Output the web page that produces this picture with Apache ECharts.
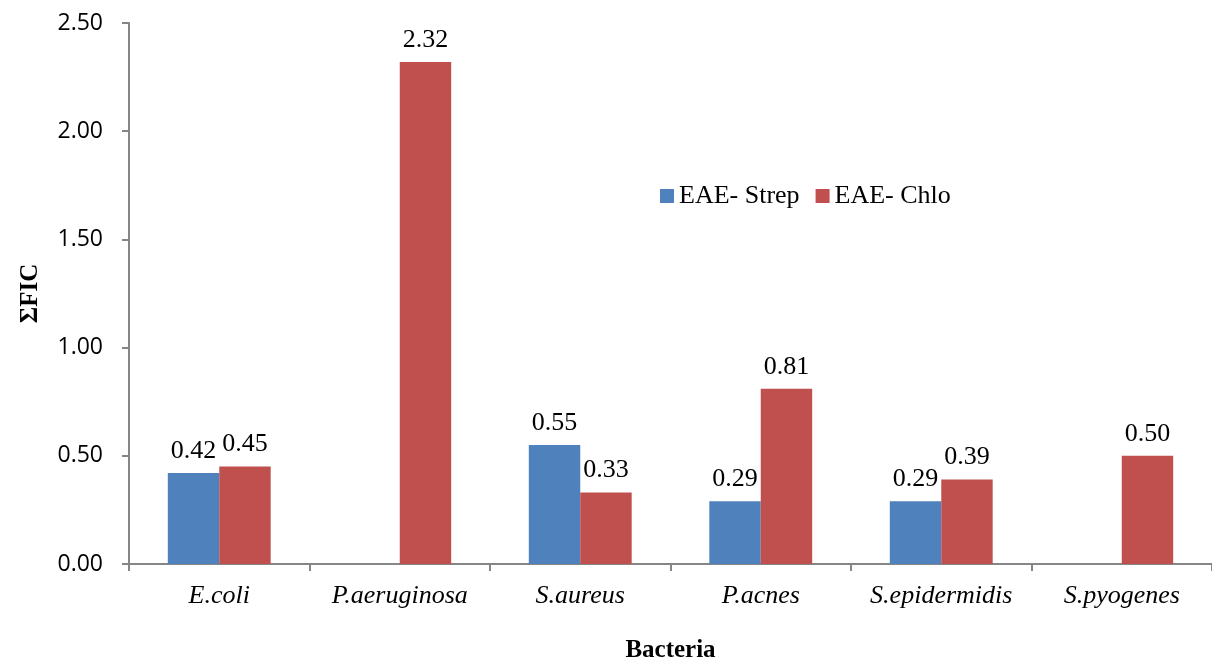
<!DOCTYPE html>
<html><head><meta charset="utf-8">
<script src="https://cdn.jsdelivr.net/npm/echarts@6/dist/echarts.min.js"></script>
<style>html,body{margin:0;padding:0;background:#fff}#c{width:1212px;height:660px}</style>
</head><body><div id="c"></div>
<script>
const categories = ['E.coli','P.aeruginosa','S.aureus','P.acnes','S.epidermidis','S.pyogenes'];
const strepValues = [0.42, null, 0.55, 0.29, 0.29, null];
const chloValues = [0.45, 2.32, 0.33, 0.81, 0.39, 0.50];
const seriesNames = ['EAE- Strep', 'EAE- Chlo'];
const yTicks = [0, 0.5, 1, 1.5, 2, 2.5];

const serif = '"Liberation Serif","Times New Roman",serif';
const chart = echarts.init(document.getElementById('c'));
const lbl = {show:true, position:'top', distance:9, fontFamily:serif, fontSize:26, color:'#000',
  formatter: p => p.value == null ? '' : p.value.toFixed(2)};
chart.setOption({
  animation:false,
  legend:{data:seriesNames, left:655, top:178, itemWidth:14, itemHeight:14, itemGap:16,
    icon:'rect', textStyle:{fontFamily:serif, fontSize:26, color:'#000'}},
  grid:{left:129, right:0, top:23, bottom:96, containLabel:false, outerBoundsMode:'none'},
  xAxis:{type:'category', data:categories,
    name:'Bacteria', nameLocation:'middle', nameGap:74,
    nameTextStyle:{fontFamily:serif, fontSize:25, fontWeight:'bold', color:'#000'},
    axisLine:{lineStyle:{color:'#868686', width:2}},
    axisTick:{show:true, length:7, lineStyle:{color:'#868686', width:2}},
    axisLabel:{interval:0, hideOverlap:false, fontFamily:serif, fontStyle:'italic', fontSize:26, color:'#000', margin:19}},
  yAxis:{type:'value', min:0, max:2.5, interval:0.5,
    name:'ΣFIC', nameLocation:'middle', nameGap:86,
    nameTextStyle:{fontFamily:serif, fontSize:25, fontWeight:'bold', color:'#000'},
    splitLine:{show:false},
    axisLine:{show:true, lineStyle:{color:'#868686', width:2}},
    axisTick:{show:true, length:7, lineStyle:{color:'#868686', width:2}},
    axisLabel:{fontFamily:'"Open Sans","Liberation Sans",sans-serif', fontSize:23, color:'#000', margin:26,
      formatter: v => yTicks.includes(v) ? v.toFixed(2) : ''}},
  series:[
    {name:seriesNames[0], type:'bar', data:strepValues, barGap:'0%', barCategoryGap:'43%',
     itemStyle:{color:'#4f81bd'}, label:lbl},
    {name:seriesNames[1], type:'bar', data:chloValues, barGap:'0%', barCategoryGap:'43%',
     itemStyle:{color:'#c0504d'}, label:lbl}
  ]
});
</script></body></html>
